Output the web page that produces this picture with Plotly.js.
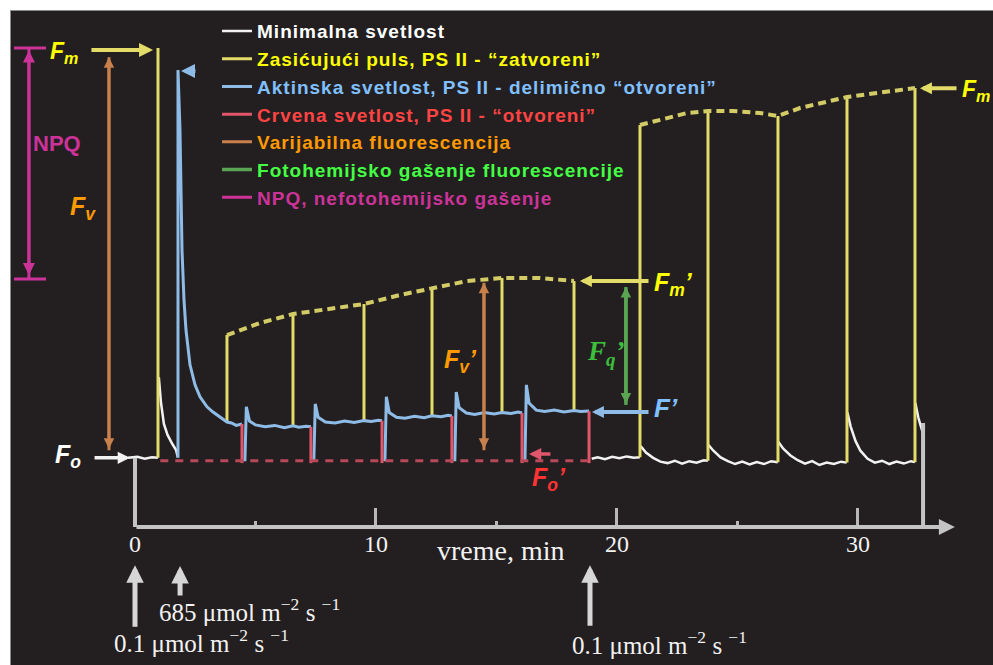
<!DOCTYPE html>
<html>
<head>
<meta charset="utf-8">
<script src="https://cdn.plot.ly/plotly-3.0.1.min.js"></script>
<style>
html,body{margin:0;padding:0;background:#ffffff;}
#wrap{position:absolute;left:10px;top:10px;width:983px;height:655px;background:#231f20;border-left:1px solid #8c8c8c;border-top:1px solid #8c8c8c;box-sizing:border-box;}
#chart{position:absolute;left:11px;top:11px;width:982px;height:654px;}
</style>
</head>
<body>
<div id="wrap"></div>
<div id="chart"></div>
<script>
// ---------------- data (time in min, fluorescence in relative units) ----------------
const tickVals = [0, 10, 20, 30];
const minorTickVals = [5, 15, 25];

const legendNames = [
  'Minimalna svetlost',
  'Zasićujući puls, PS II - “zatvoreni”',
  'Aktinska svetlost, PS II - delimično “otvoreni”',
  'Crvena svetlost, PS II - “otvoreni”',
  'Varijabilna fluorescencija',
  'Fotohemijsko gašenje fluorescencije',
  'NPQ, nefotohemijsko gašenje'
];
const legendTextColors = ['#ffffff', '#ffff00', '#80c0ff', '#ff4444', '#ff9900', '#44ff44', '#cc3399'];

// minimal (measuring) light trace
const whiteT = [-0.29, 0.1, 0.4, 0.7, 0.95, null,
  0.99, 1.08, 1.2, 1.35, 1.55, 1.70, 1.78, null,
  18.95, 19.2, 19.5, 19.8, 20.1, 20.4, 20.7, 20.95, null,
  20.98, 21.2, 21.5, 21.8, 22.1, 22.4, 22.7, 23.0, 23.3, 23.6, 23.77, null,
  23.80, 24.0, 24.3, 24.6, 24.9, 25.2, 25.5, 25.8, 26.1, 26.4, 26.67, null,
  26.70, 26.9, 27.2, 27.5, 27.8, 28.1, 28.4, 28.7, 29.0, 29.3, 29.53, null,
  29.56, 29.7, 29.9, 30.1, 30.4, 30.7, 31.0, 31.3, 31.6, 31.9, 32.2, 32.36, null,
  32.38, 32.5, 32.7];
const whiteY = [14.5, 14.7, 14.3, 14.6, 14.5, null,
  31.4, 26.0, 21.6, 19.3, 17.4, 16.2, 14.6, null,
  14.3, 14.6, 14.2, 14.7, 14.4, 14.8, 14.5, 14.6, null,
  17.0, 15.6, 14.5, 13.7, 13.4, 13.9, 13.3, 13.8, 13.5, 14.0, 13.9, null,
  17.2, 16.0, 14.6, 13.8, 13.2, 13.7, 13.1, 13.6, 13.2, 13.8, 13.6, null,
  17.8, 16.4, 15.0, 14.0, 13.3, 13.8, 13.0, 13.5, 13.2, 13.7, 13.5, null,
  24.0, 21.0, 18.0, 16.0, 14.3, 13.5, 13.9, 13.2, 13.7, 13.3, 13.8, 13.6, null,
  26.0, 23.0, 19.5];

// saturating pulses
const pulseT    = [0.954, 3.817, 6.556, 9.502, 12.324, 15.228, 18.216, 20.954, 23.776, 26.680, 29.544, 32.365];
const pulseBase = [14.5, 22.0, 21.2, 22.3, 23.3, 24.0, 24.4, 14.6, 13.9, 13.6, 13.5, 13.6];
const pulseTop  = [100.4, 40.25, 44.65, 46.75, 50.10, 52.20, 51.57, 84.28, 87.21, 86.16, 90.15, 92.03];

// actinic light trace
const blueT = [1.784, 1.784, 1.867, 1.950, 2.033, 2.116, 2.282, 2.490, 2.697, 2.988, 3.237, 3.527, 3.817, 4.0, 4.2, 4.44, null,
  4.56, 4.62, 4.75, 5.0, 5.4, 5.8, 6.2, 6.556, 6.8, 7.1, 7.30, null,
  7.42, 7.48, 7.6, 7.9, 8.3, 8.7, 9.1, 9.502, 9.8, 10.1, 10.25, null,
  10.37, 10.43, 10.55, 10.85, 11.2, 11.6, 12.0, 12.324, 12.7, 13.0, 13.15, null,
  13.27, 13.33, 13.45, 13.75, 14.1, 14.5, 14.9, 15.228, 15.6, 15.9, 16.06, null,
  16.18, 16.24, 16.35, 16.65, 17.0, 17.4, 17.8, 18.216, 18.5, 18.84];
const blueY = [14.5, 95.8, 83.2, 58.1, 47.6, 41.3, 34.0, 29.8, 27.3, 25.2, 24.1, 23.1, 22.0, 21.8, 21.3, 21.6, null,
  13.8, 25.2, 22.2, 21.4, 21.0, 21.3, 20.8, 21.2, 20.9, 21.1, 21.0, null,
  13.8, 25.8, 23.0, 22.0, 21.8, 22.2, 21.9, 22.3, 22.1, 22.4, 22.3, null,
  13.8, 27.3, 24.0, 23.0, 22.8, 23.2, 22.9, 23.3, 23.1, 23.4, 23.3, null,
  13.8, 28.3, 25.0, 23.9, 23.6, 24.0, 23.7, 24.0, 23.8, 24.1, 23.9, null,
  13.8, 29.8, 26.0, 24.5, 24.2, 24.5, 24.1, 24.4, 24.2, 24.3];

// far-red (PS II open) drops and Fo' level
const farRedT   = [4.44, 7.30, 10.25, 13.15, 16.06, 18.84];
const farRedTop = [21.6, 21.0, 22.3, 23.3, 23.9, 24.3];
const foPrimeLevel = 13.4;
const foPrimeLineT = [1.05, 18.84];
const foPrimeLineY = [13.9, 13.9];

// Fm' envelope (actinic phase) and Fm recovery envelope (dark phase)
const fmPrimeEnvT = [3.817, 5.187, 6.556, 8.091, 9.502, 10.996, 12.324, 13.776, 15.228, 16.805, 18.216];
const fmPrimeEnvY = [40.25, 42.77, 44.65, 45.70, 46.75, 48.64, 50.10, 51.57, 52.20, 52.20, 51.57];
const fmRecovEnvT = [20.954, 22.075, 22.905, 23.776, 24.813, 25.934, 26.680, 27.593, 28.714, 29.544, 30.788, 32.365];
const fmRecovEnvY = [84.28, 85.74, 86.79, 87.21, 87.21, 86.79, 86.16, 87.84, 89.10, 90.15, 90.99, 92.03];

// parameter spans: Fv, Fv', Fq', NPQ
const fvT = [-1.08, 14.48];
const fvTop = [98.5, 51.2];
const fvBottom = [16.1, 16.1];
const fqT = [20.37];
const fqTop = [50.3];
const fqBottom = [25.6];
const npqT = [-4.40];
const npqTop = [100.4];
const npqBottom = [52.0];

// reference levels marked with pointers
const fmLevel = 100.0;
const foLevel = 14.5;
const fmPrimeLevel = 51.6;
const fPrimeLevel = 24.1;
const foPrimeMark = 15.3;
const fmFinalLevel = 92.0;
const actinicPeak = 95.6;

// ---------------- helpers ----------------
function verticals(ts, lo, hi) {
  const x = [], y = [];
  ts.forEach((t, i) => {
    x.push(t, t, null);
    y.push(Array.isArray(lo) ? lo[i] : lo, Array.isArray(hi) ? hi[i] : hi, null);
  });
  return {x, y};
}
function legName(i) {
  return '<b><span style="color:' + legendTextColors[i] + ';letter-spacing:1px">' + legendNames[i] + '</span></b>';
}

const pulses = verticals(pulseT, pulseBase, pulseTop);
const reds = verticals(farRedT, farRedTop, foPrimeLevel);
const fvSeg = verticals(fvT, fvTop, fvBottom);
const fqSeg = verticals(fqT, fqTop, fqBottom);
const npqSeg = verticals(npqT, npqTop, npqBottom);
const npqX = npqSeg.x.concat([npqT[0] - 0.62, npqT[0] + 0.71, null, npqT[0] - 0.62, npqT[0] + 0.71]);
const npqY = npqSeg.y.concat([npqTop[0], npqTop[0], null, npqBottom[0], npqBottom[0]]);

const C = {
  white: '#f2f2f2', yellow: '#e3dc68', yellowDash: '#d3cc66', blue: '#8fbce6',
  red: '#e0566a', redDash: '#b8485a', orange: '#c8804c', green: '#5aa552',
  magenta: '#cc3399', gray: '#c4c4c4'
};

const traces = [
  {x: whiteT, y: whiteY, mode: 'lines', name: legName(0), line: {color: C.white, width: 2.5}, hoverinfo: 'skip'},
  {x: pulses.x, y: pulses.y, mode: 'lines', name: legName(1), line: {color: C.yellow, width: 3}, hoverinfo: 'skip'},
  {x: blueT, y: blueY, mode: 'lines', name: legName(2), line: {color: C.blue, width: 3}, hoverinfo: 'skip'},
  {x: reds.x, y: reds.y, mode: 'lines', name: legName(3), line: {color: C.red, width: 3}, hoverinfo: 'skip'},
  {x: fvSeg.x, y: fvSeg.y, mode: 'lines', name: legName(4), line: {color: C.orange, width: 3}, hoverinfo: 'skip'},
  {x: fqSeg.x, y: fqSeg.y, mode: 'lines', name: legName(5), line: {color: C.green, width: 3.5}, hoverinfo: 'skip'},
  {x: npqX, y: npqY, mode: 'lines', name: legName(6), line: {color: C.magenta, width: 3}, hoverinfo: 'skip'},
  {x: foPrimeLineT, y: foPrimeLineY, mode: 'lines', showlegend: false, line: {color: C.redDash, width: 3, dash: '8px,7px'}, hoverinfo: 'skip'},
  {x: fmPrimeEnvT, y: fmPrimeEnvY, mode: 'lines', showlegend: false, line: {color: C.yellowDash, width: 4, dash: '8px,5px'}, hoverinfo: 'skip'},
  {x: fmRecovEnvT, y: fmRecovEnvY, mode: 'lines', showlegend: false, line: {color: C.yellowDash, width: 4, dash: '8px,5px'}, hoverinfo: 'skip'}
];

// ---------------- annotations ----------------
function arrow(t0, y0, t1, y1, color, width, both, size) {
  return {x: t1, y: y1, ax: t0, ay: y0, xref: 'x', yref: 'y', axref: 'x', ayref: 'y',
    text: '', showarrow: true, arrowhead: 2, startarrowhead: 2, arrowsize: size || 0.8, startarrowsize: size || 0.8,
    arrowwidth: width, arrowcolor: color, arrowside: both ? 'end+start' : 'end', standoff: 0, startstandoff: 0};
}
function label(t, y, text, color, size, family, anchor) {
  return {x: t, y: y, xref: 'x', yref: 'y', text: text, showarrow: false,
    xanchor: anchor || 'left', yanchor: 'middle',
    font: {family: family || 'Liberation Sans', size: size, color: color}};
}
const SERIF = 'Liberation Serif';
const units = ' μmol m<sup>−2</sup> s <sup>−1</sup>';

const annotations = [
  // double-headed parameter arrows
  arrow(fvT[0], fvBottom[0], fvT[0], fvTop[0], C.orange, 3, true, 0.7),
  arrow(fvT[1], fvBottom[1], fvT[1], fvTop[1], C.orange, 3, true, 0.7),
  arrow(fqT[0], fqBottom[0], fqT[0], fqTop[0], C.green, 3.5, true, 0.6),
  arrow(npqT[0], npqBottom[0] + 0.5, npqT[0], npqTop[0] - 0.5, C.magenta, 3, true, 0.8),
  // level pointers
  arrow(-1.87, fmLevel, 0.75, fmLevel, C.yellow, 4, false, 0.7),
  arrow(2.57, actinicPeak, 1.91, actinicPeak, C.blue, 4, false, 0.7),
  arrow(-1.74, foLevel, -0.21, foLevel, C.white, 3.5, false, 0.7),
  arrow(21.37, fmPrimeLevel, 18.46, fmPrimeLevel, C.yellow, 4, false, 0.6),
  arrow(21.37, fPrimeLevel, 18.96, fPrimeLevel, C.blue, 4, false, 0.6),
  arrow(17.3, foPrimeMark, 16.35, foPrimeMark, C.red, 3.5, false, 0.7),
  arrow(34.15, fmFinalLevel, 32.57, fmFinalLevel, C.yellow, 4, false, 0.6),
  // time axis and light-switch arrows
  arrow(0, 0, 34.02, 0, C.gray, 4, false, 0.8),
  arrow(0, -21.2, 0, -8.0, '#d6d6d6', 5, false, 0.7),
  arrow(1.87, -14.7, 1.87, -8.2, '#d6d6d6', 5, false, 0.7),
  arrow(18.88, -21.0, 18.88, -8.0, '#d6d6d6', 5, false, 0.7),
  // labels
  label(-3.61, 99.4, '<b><i>F<sub>m</sub></i></b>', '#ffff00', 23),
  label(-3.24, 80.5, '<b>NPQ</b>', '#cc3399', 22, null, 'center'),
  label(-2.78, 66.8, '<b><i>F<sub>v</sub></i></b>', '#ff9900', 25),
  label(-3.40, 14.8, '<b><i>F<sub>o</sub></i></b>', '#ffffff', 25),
  label(12.74, 34.8, '<b><i>F<sub>v</sub>’</i></b>', '#ff9900', 25),
  label(18.67, 36.5, '<b><i>F<sub>q</sub>’</i></b>', '#3cbf3c', 27, SERIF),
  label(21.45, 51.0, '<b><i>F<sub>m</sub>’</i></b>', '#ffff00', 25),
  label(21.45, 24.9, '<b><i>F’</i></b>', '#80c0ff', 26),
  label(16.39, 10.0, '<b><i>F<sub>o</sub>’</i></b>', '#ff3333', 25),
  label(34.23, 91.6, '<b><i>F<sub>m</sub></i></b>', '#ffff00', 23),
  label(15.19, -5.0, 'vreme, min', '#f2f2f2', 28, SERIF, 'center'),
  label(0.91, -17.4, '685' + units, '#f2f2f2', 25, SERIF),
  label(-0.95, -23.9, '0.1' + units, '#f2f2f2', 25, SERIF),
  label(18.05, -24.3, '0.1' + units, '#f2f2f2', 25, SERIF)
];

const shapes = [
  {type: 'line', xref: 'x', yref: 'y', x0: 0, x1: 0, y0: foLevel, y1: 0, line: {color: C.gray, width: 4}},
  {type: 'line', xref: 'x', yref: 'y', x0: 32.70, x1: 32.70, y0: 21.8, y1: 0, line: {color: C.gray, width: 4}}
];

const layout = {
  width: 982, height: 654,
  margin: {l: 0, r: 0, t: 0, b: 0, pad: 0},
  paper_bgcolor: '#231f20', plot_bgcolor: 'rgba(0,0,0,0)',
  showlegend: true,
  legend: {x: 0.2098, y: 0.9982, xanchor: 'left', yanchor: 'top', bgcolor: 'rgba(0,0,0,0)', borderwidth: 0,
    font: {family: 'Liberation Sans', size: 19, color: '#ffffff'}, itemclick: false, itemdoubleclick: false},
  xaxis: {range: [-5.145, 35.602], anchor: 'free', position: 0.211, showgrid: false, zeroline: false, showline: false,
    tickmode: 'array', tickvals: tickVals, ticktext: tickVals.map(String),
    ticks: 'inside', ticklen: 19, tickwidth: 3, tickcolor: '#b8b8b8',
    tickfont: {family: SERIF, size: 24, color: '#f2f2f2'},
    minor: {tickmode: 'array', tickvals: minorTickVals, ticks: 'inside', ticklen: 6, tickwidth: 3, tickcolor: '#b8b8b8', showgrid: false},
    fixedrange: true},
  yaxis: {range: [-28.93, 108.18], visible: false, fixedrange: true},
  shapes: shapes,
  annotations: annotations
};

Plotly.newPlot('chart', traces, layout, {displayModeBar: false, staticPlot: true});
</script>
</body>
</html>
